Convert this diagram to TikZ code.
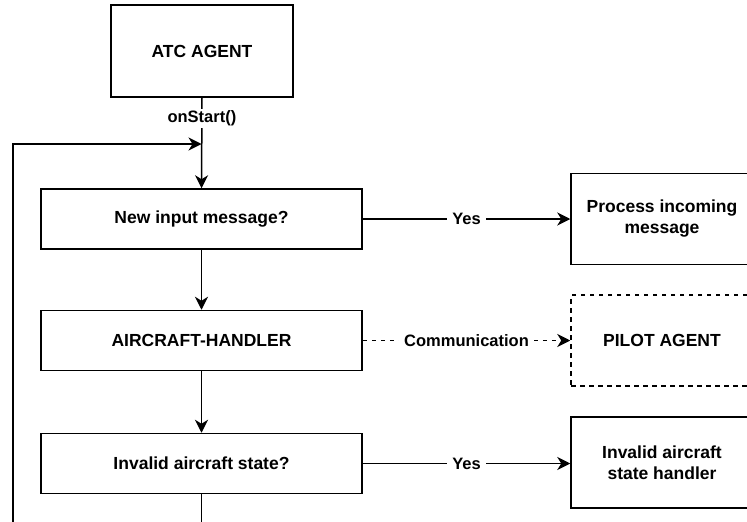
\documentclass[tikz,border=0pt]{standalone}
\usepackage{fontspec}
\setmainfont{Liberation Sans}
\usetikzlibrary{arrows.meta}
\begin{document}
\begin{tikzpicture}[x=1pt,y=-1pt,
  every node/.style={font=\bfseries\fontsize{17.5}{21}\selectfont},
  box/.style={draw,line width=1.5pt,minimum width=182pt,minimum height=91pt,inner sep=0pt,align=center,fill=white},
  wbox/.style={draw,line width=1.5pt,minimum width=321pt,minimum height=60pt,inner sep=0pt,align=center},
  dbox/.style={box,dash pattern=on 4.5pt off 4.5pt},
  conn/.style={line width=1.5pt,-{Stealth[length=13pt,width=13pt,inset=4pt]}},
  dconn/.style={conn,dash pattern=on 4.5pt off 4.5pt},
  lbl/.style={fill=white,inner xsep=5pt,inner ysep=2pt,font=\bfseries\fontsize{16.5}{19}\selectfont}]
\useasboundingbox (0,0) rectangle (747,522);
\clip (0,0) rectangle (747,522);
\fill[white] (0,0) rectangle (747,522);

\node[box,minimum height=92pt] (atc) at (202,51) {ATC AGENT};
\node[wbox] (new) at (201.5,219) {New input message?};
\node[wbox] (air) at (201.5,340.5) {AIRCRAFT-HANDLER};
\node[wbox] (inv) at (201.5,463.5) {Invalid aircraft state?};
\node[box] (proc) at (662,219) {Process incoming\\message};
\node[dbox] (pilot) at (662,340.5) {PILOT AGENT};
\node[box] (hand) at (662,462.5) {Invalid aircraft\\state handler};

\coordinate (join) at (201.5,144);
\coordinate (down) at (201.5,530);
\coordinate (loopstart) at (13,530);

\draw[conn] (atc.south) -- node[lbl,pos=0.23]{onStart()} (new.north);
\draw[conn] (loopstart) |- (join);
\draw[conn] (new.south) -- (air.north);
\draw[conn] (air.south) -- (inv.north);
\draw[line width=1.5pt] (inv.south) -- (down);
\draw[conn] (new.east) -- node[lbl]{Yes} (proc.west);
\draw[dconn] (air.east) -- node[lbl]{Communication} (pilot.west);
\draw[conn] (inv.east) -- node[lbl]{Yes} (inv.east -| hand.west);
\end{tikzpicture}
\end{document}
